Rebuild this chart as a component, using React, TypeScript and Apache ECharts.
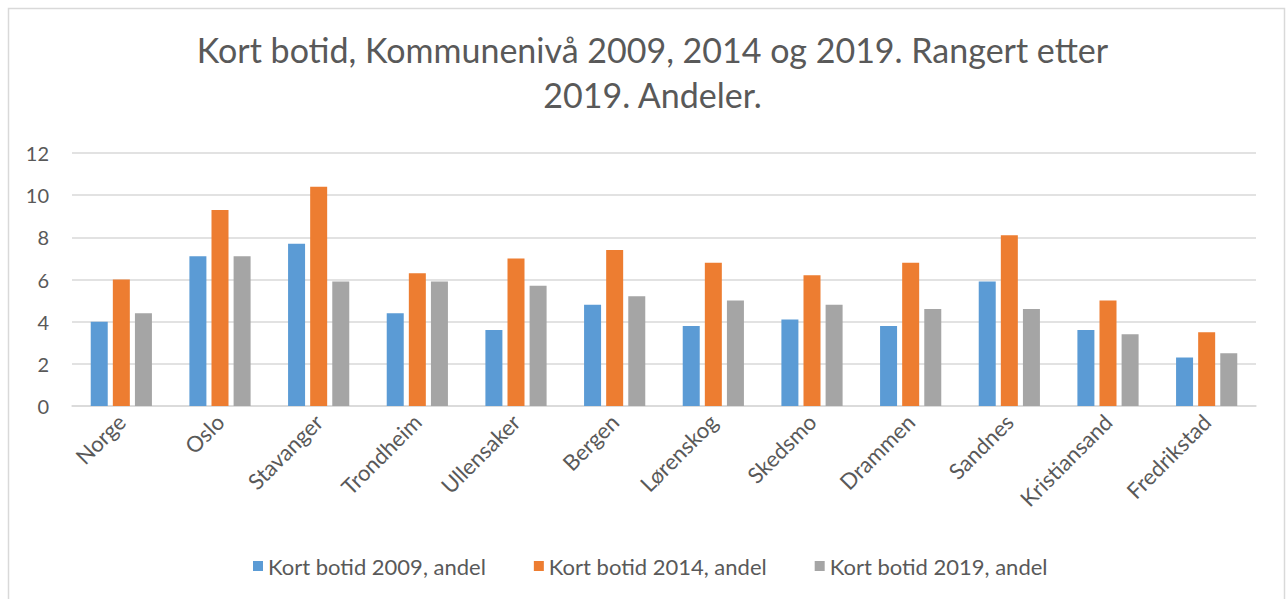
import React, { useEffect, useRef } from "react";
import * as echarts from "echarts";

const categories = ["Norge", "Oslo", "Stavanger", "Trondheim", "Ullensaker", "Bergen", "Lørenskog", "Skedsmo", "Drammen", "Sandnes", "Kristiansand", "Fredrikstad"];
const values2009 = [4.0, 7.1, 7.7, 4.4, 3.6, 4.8, 3.8, 4.1, 3.8, 5.9, 3.6, 2.3];
const values2014 = [6.0, 9.3, 10.4, 6.3, 7.0, 7.4, 6.8, 6.2, 6.8, 8.1, 5.0, 3.5];
const values2019 = [4.4, 7.1, 5.9, 5.9, 5.7, 5.2, 5.0, 4.8, 4.6, 4.6, 3.4, 2.5];
const seriesNames = ["Kort botid 2009, andel", "Kort botid 2014, andel", "Kort botid 2019, andel"];
const colors = ["#5B9BD5", "#ED7D31", "#A5A5A5"];
const titleText = "Kort botid, Kommunenivå 2009, 2014 og 2019. Rangert etter\n2019. Andeler.";

const FONT = "Lato, 'Open Sans', sans-serif";
const TEXT = "#595959";

export default function App() {
  const ref = useRef<HTMLDivElement>(null);
  useEffect(() => {
    if (!ref.current) return;
    const chart = echarts.init(ref.current, null, { renderer: "svg" });
    const data = [values2009, values2014, values2019];
    chart.setOption({
      animation: false,
      backgroundColor: "#ffffff",
      graphic: [
        {
          type: "rect",
          shape: { x: 8.5, y: 8.5, width: 1276, height: 620 },
          style: { fill: "none", stroke: "#D9D9D9", lineWidth: 1.5 },
          silent: true,
          z: -1,
        },
      ],
      title: {
        text: titleText,
        left: 647.5,
        textAlign: "center",
        top: 22,
        textStyle: { fontFamily: FONT, fontSize: 34, fontWeight: "normal", color: TEXT, lineHeight: 45 },
      },
      legend: {
        data: seriesNames,
        left: 248,
        top: 550,
        itemWidth: 10,
        itemHeight: 10,
        itemGap: 48,
        icon: "rect",
        textStyle: { fontFamily: FONT, fontSize: 22, color: TEXT },
      },
      grid: { left: 72, right: 31, top: 153, bottom: 193, containLabel: false },
      xAxis: {
        type: "category",
        data: categories,
        axisLine: { lineStyle: { color: "#D9D9D9", width: 1.5 } },
        axisTick: { show: false },
        axisLabel: { rotate: 45, fontFamily: FONT, fontSize: 22, color: TEXT, margin: 12, interval: 0 },
      },
      yAxis: {
        type: "value",
        min: 0,
        max: 12,
        interval: 2,
        axisLine: { show: false },
        axisTick: { show: false },
        axisLabel: { fontFamily: FONT, fontSize: 20, color: TEXT, margin: 23 },
        splitLine: { lineStyle: { color: "#D9D9D9", width: 1.5 } },
      },
      series: seriesNames.map((name, i) => ({
        name,
        type: "bar",
        data: data[i],
        barWidth: 17,
        barGap: "30%",
        itemStyle: { color: colors[i] },
      })),
    });
    return () => chart.dispose();
  }, []);
  return <div ref={ref} style={{ position: "fixed", left: 0, top: 0, width: 1287, height: 599 }} />;
}
